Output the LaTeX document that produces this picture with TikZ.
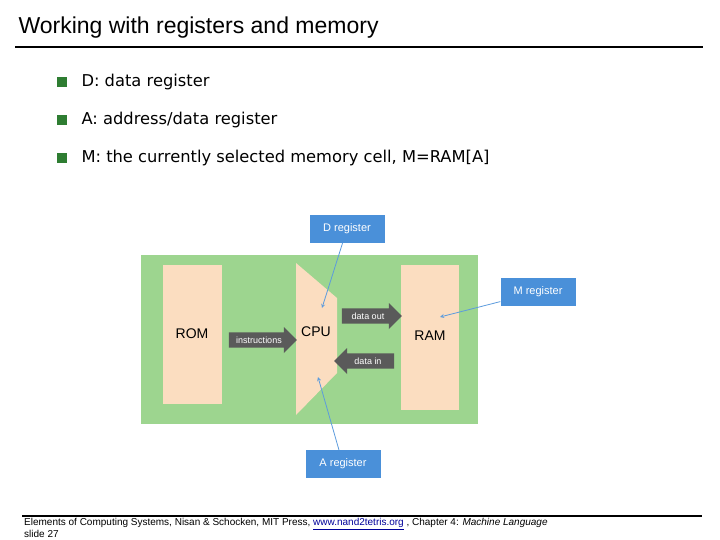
\documentclass[tikz,border=0pt]{standalone}
\usepackage{fontspec}
\setmainfont{Liberation Sans}
\newfontfamily\itemfont{DejaVu Sans}
\usetikzlibrary{shapes.arrows}
\definecolor{bgreen}{HTML}{9DD58F}
\definecolor{peach}{HTML}{FBDDC0}
\definecolor{regblue}{HTML}{4A90D9}
\definecolor{arrgray}{HTML}{5A5A5A}
\definecolor{bullet}{HTML}{2E7D32}
\begin{document}
\begin{tikzpicture}[x=1pt, y=-1pt,
  block/.style={fill=peach, draw=none},
  reg/.style={fill=regblue, text=white, font=\fontsize{11}{12}\selectfont, minimum width=75pt, minimum height=28pt, inner sep=0pt},
  bus/.style={single arrow, fill=arrgray, text=white, font=\fontsize{9}{10}\selectfont, single arrow head extend=4pt, inner sep=2pt, minimum width=26pt, minimum height=60pt},
  point/.style={-stealth, regblue!90!white, thick},
  item/.style={anchor=west, font=\itemfont\fontsize{16.3}{18}\selectfont}]
\useasboundingbox (0,0) rectangle (720,540);

% title
\node[anchor=west, font=\fontsize{23}{25}\selectfont] (title) at (15,28) {Working with registers and memory};
\draw[line width=2pt] (15,47) -- (703,47);

% bullets
\foreach \y/\t [count=\i] in {82/{D: data register}, 120/{A: address/data register}, 158/{M: the currently selected memory cell, M=RAM[A]}} {
  \fill[bullet] (57,\y-5) rectangle ++(10,10);
  \node[item] (b\i) at (78,\y) {\t};
}

% diagram
\fill[bgreen] (141,255) rectangle (478,424);
\fill[block] (163,265) rectangle (222,404);
\node[font=\fontsize{14}{15}\selectfont] (rom) at (192,334) {ROM};
\fill[block] (401,265) rectangle (459,410);
\node[font=\fontsize{14}{15}\selectfont] (ram) at (430,336) {RAM};
\fill[block] (296,263) -- (337,298) -- (337,373) -- (296,415) -- cycle;
\node[font=\fontsize{14}{15}\selectfont] (cpu) at (316,332) {CPU};

\node[bus, minimum height=68pt] (instr) at (259,340) {instructions};
\node[bus] (out) at (368,316) {data out};
\node[bus, shape border rotate=180] (in) at (368,361) {data in};

\node[reg] (dreg) at (347,229) {D register};
\node[reg] (mreg) at (538,292) {M register};
\node[reg] (areg) at (343,464) {A register};
\coordinate (dpt) at (322,308);
\coordinate (mpt) at (440,317);
\coordinate (apt) at (318,377);
\draw[point] (dreg) -- (dpt);
\draw[point] (mreg) -- (mpt);
\draw[point] (areg) -- (apt);

% footer
\draw[line width=1.2pt] (22,516) -- (702,516);
\node[anchor=north west, font=\fontsize{10}{11}\selectfont, align=left, inner sep=0pt] (foot) at (24,518)
  {Elements of Computing Systems, Nisan \& Schocken, MIT Press, \textcolor{blue!60!black}{\underline{www.nand2tetris.org}} , Chapter 4: \textit{Machine Language}\\slide 27};
\end{tikzpicture}
\end{document}
